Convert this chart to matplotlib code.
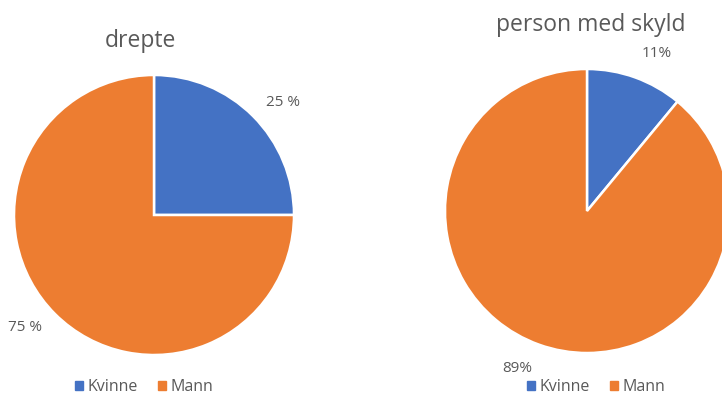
import numpy as np
import matplotlib.pyplot as plt
from matplotlib.patches import Patch

plt.rcParams['font.family'] = ['Open Sans', 'DejaVu Sans']

categories = ['Kvinne', 'Mann']
drepte = [25, 75]
skyld = [11, 89]
titles = ['drepte', 'person med skyld']
colors = ['#4472C4', '#ED7D31']
grey = '#595959'

W, H = 722, 394
fig = plt.figure(figsize=(W / 100, H / 100), dpi=100)


def px_axes(cx, cy, r):
    # axes box in pixel coords (y from top), pie radius 1 fills it
    return fig.add_axes([(cx - r) / W, (H - cy - r) / H, 2 * r / W, 2 * r / H])


def draw(ax, vals, fmt, dist, legend_x):
    wedges, _, pcts = ax.pie(vals, colors=colors, startangle=90, counterclock=False,
                             autopct=fmt, pctdistance=dist,
                             wedgeprops=dict(edgecolor='white', linewidth=1.8),
                             textprops=dict(color=grey, fontsize=11))
    # labels sit a little clockwise of the wedge middle
    for w, t in zip(wedges, pcts):
        a = np.deg2rad((w.theta1 + w.theta2) / 2 - 4)
        t.set_position((dist * np.cos(a), dist * np.sin(a)))
    ax.set_xlim(-1, 1)
    ax.set_ylim(-1, 1)
    ax.set_aspect('equal')
    ax.axis('off')
    handles = [Patch(color=c, label=l) for c, l in zip(colors, categories)]
    fig.legend(handles=handles, loc='center', ncol=2, frameon=False,
               bbox_to_anchor=(legend_x / W, 1 - 387 / H),
               fontsize=11.5, labelcolor=grey, handlelength=0.5,
               handleheight=0.5, handletextpad=0.25, columnspacing=1.3)
    return ax


ax1 = px_axes(154, 215, 140)
draw(ax1, drepte, lambda p: '%d %%' % round(p), 1.22, 144)
fig.text(140 / W, 1 - 41 / H, titles[0], ha='center', va='center',
         fontsize=16.5, color=grey)

ax2 = px_axes(587, 211, 142)
draw(ax2, skyld, lambda p: '%d%%' % round(p), 1.21, 596)
fig.text(591 / W, 1 - 25 / H, titles[1], ha='center', va='center',
         fontsize=16.5, color=grey)

fig.savefig('out.png', dpi=100)
